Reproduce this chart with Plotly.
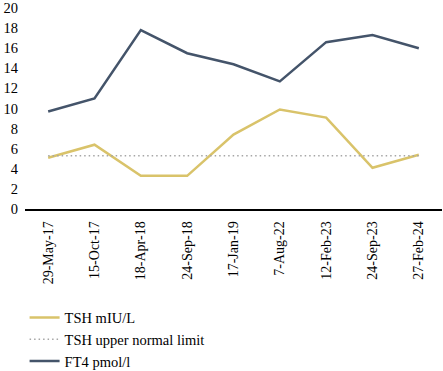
import plotly.graph_objects as go

dates = ["29-May-17", "15-Oct-17", "18-Apr-18", "24-Sep-18", "17-Jan-19",
         "7-Aug-22", "12-Feb-23", "24-Sep-23", "27-Feb-24"]
tsh = [5.1, 6.4, 3.3, 3.3, 7.4, 9.9, 9.1, 4.1, 5.4]
tsh_limit = [5.3] * len(dates)
ft4 = [9.7, 11.0, 17.8, 15.5, 14.4, 12.7, 16.6, 17.3, 16.0]
y_ticks = [0, 2, 4, 6, 8, 10, 12, 14, 16, 18, 20]

font = "Liberation Serif, DejaVu Serif, serif"

fig = go.Figure()
fig.add_trace(go.Scatter(x=dates, y=tsh, mode="lines", name="TSH mIU/L",
                         line=dict(color="#D9C36A", width=2.5)))
fig.add_trace(go.Scatter(x=dates, y=tsh_limit, mode="lines", name="TSH upper normal limit",
                         line=dict(color="#A6A6A6", width=1.5, dash="1.5px,3px")))
fig.add_trace(go.Scatter(x=dates, y=ft4, mode="lines", name="FT4 pmol/l",
                         line=dict(color="#44546A", width=2.5)))

fig.update_layout(
    width=443, height=371,
    margin=dict(l=25, r=1, t=8, b=162, autoexpand=False),
    plot_bgcolor="white", paper_bgcolor="white",
    font=dict(family=font, size=14, color="black"),
    showlegend=True,
    legend=dict(orientation="v", x=-0.001, y=-0.46, xanchor="left", yanchor="top",
                font=dict(family=font, size=14.5, color="black"),
                tracegroupgap=0, itemwidth=30),
    xaxis=dict(type="category", range=[-0.5, 8.5], showgrid=False,
               showline=True, linecolor="black", linewidth=1.5,
               ticks="", tickangle=-90, tickfont=dict(size=14),
               ticklabelstandoff=5, automargin=False),
    yaxis=dict(range=[0, 20], tickvals=y_ticks, showgrid=False, zeroline=False,
               showline=False, ticks="", tickfont=dict(size=14.5),
               ticklabelstandoff=6, automargin=False),
)

fig.write_html("out.html")
